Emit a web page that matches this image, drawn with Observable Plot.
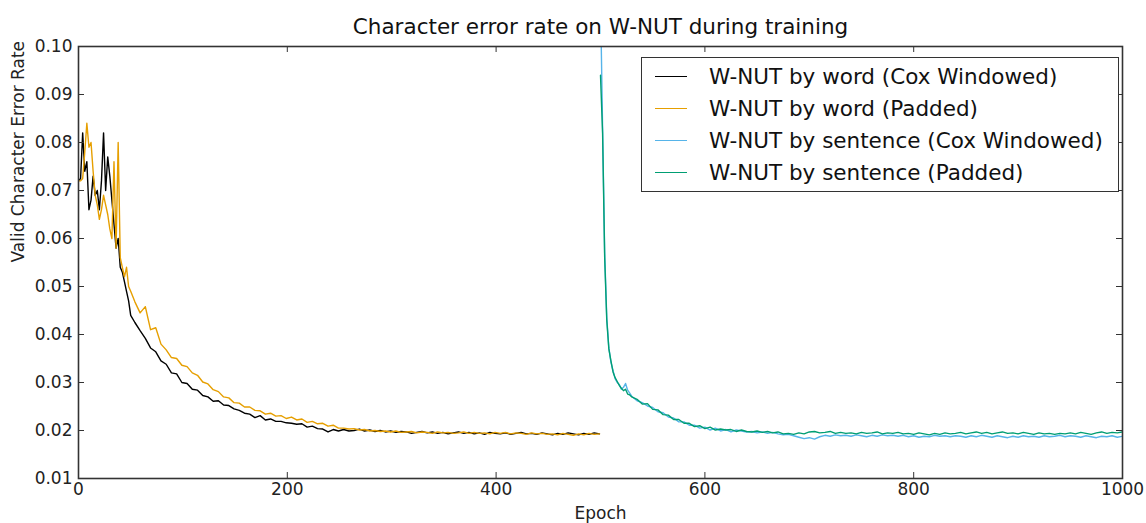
<!DOCTYPE html>
<html>
<head>
<meta charset="utf-8">
<script src="https://cdn.jsdelivr.net/npm/d3@7"></script>
<script src="https://cdn.jsdelivr.net/npm/@observablehq/plot@0.6"></script>
<style>
  html, body { margin: 0; padding: 0; background: #fff; }
  #wrap { position: relative; width: 1146px; height: 523px; font-family: "DejaVu Sans", sans-serif; }
  #legend { position: absolute; left: 641px; top: 57px; width: 476px; height: 133px; border: 1.5px solid #333; background: #fff; }
  .row { position: absolute; left: 0; height: 30px; display: flex; align-items: center; font-size: 21.5px; color: #111; white-space: nowrap; }
  .sw { width: 32px; height: 0; border-top: 1.6px solid; margin-left: 13px; margin-right: 22px; }
</style>
</head>
<body>
<div id="wrap"></div>
<script>
// ---- data ----
const titleText = "Character error rate on W-NUT during training";
const xLabel = "Epoch";
const yLabel = "Valid Character Error Rate";
const xTicks = [0, 200, 400, 600, 800, 1000];
const yTicks = [0.01, 0.02, 0.03, 0.04, 0.05, 0.06, 0.07, 0.08, 0.09, 0.10];
const seriesNames = [
  "W-NUT by word (Cox Windowed)",
  "W-NUT by word (Padded)",
  "W-NUT by sentence (Cox Windowed)",
  "W-NUT by sentence (Padded)"
];
const seriesColors = ["#000000", "#E69F00", "#56B4E9", "#009E73"];

// epoch grids
const wordEarlyEpochs = d3.range(0, 51, 2);     // 0..50
const wordLateEpochs = d3.range(54, 500, 5);    // 54..499
const sentEarlyEpochs = d3.range(500, 531, 2);  // 500..530
const sentLateEpochs = d3.range(535, 1001, 5);  // 535..1000

// word, Cox windowed (black)
const wordCoxEarly = [0.0720,0.0725,0.0820,0.0740,0.0760,0.0660,0.0680,0.0730,0.0690,0.0700,
  0.0660,0.0720,0.0820,0.0700,0.0770,0.0730,0.0680,0.0630,0.0580,0.0600,
  0.0540,0.0530,0.0510,0.0490,0.0470,0.0440];
const wordCoxLate = [
  0.0425,0.0408,0.0392,0.0372,0.0364,0.0345,0.0338,0.0320,0.0318,0.0300,
  0.0298,0.0286,0.0284,0.0273,0.0270,0.0261,0.0262,0.0253,0.0252,0.0245,
  0.0242,0.0236,0.0234,0.0227,0.0231,0.0222,0.0224,0.0219,0.0219,0.0216,
  0.0215,0.0213,0.0214,0.0207,0.0209,0.0204,0.0203,0.0197,0.0202,0.0199,
  0.0202,0.0199,0.0200,0.0203,0.0199,0.0201,0.0198,0.0200,0.0197,0.0199,
  0.0196,0.0198,0.0197,0.0194,0.0196,0.0198,0.0195,0.0197,0.0194,0.0196,
  0.0193,0.0195,0.0197,0.0194,0.0196,0.0193,0.0195,0.0192,0.0196,0.0194,
  0.0193,0.0195,0.0192,0.0194,0.0196,0.0193,0.0194,0.0192,0.0195,0.0193,
  0.0191,0.0194,0.0192,0.0195,0.0193,0.0191,0.0194,0.0192,0.0195,0.0193];

// word, padded (orange)
const wordPadEarly = [0.0720,0.0720,0.0725,0.0780,0.0840,0.0790,0.0800,0.0740,0.0690,0.0670,
  0.0640,0.0660,0.0690,0.0670,0.0650,0.0620,0.0600,0.0760,0.0580,0.0800,
  0.0560,0.0540,0.0520,0.0540,0.0500,0.0490];
const wordPadLate = [
  0.0468,0.0445,0.0458,0.0410,0.0414,0.0380,0.0368,0.0352,0.0350,0.0336,
  0.0333,0.0320,0.0315,0.0301,0.0297,0.0285,0.0281,0.0270,0.0268,0.0258,
  0.0257,0.0249,0.0249,0.0242,0.0241,0.0234,0.0236,0.0230,0.0231,0.0225,
  0.0228,0.0222,0.0224,0.0217,0.0219,0.0214,0.0215,0.0209,0.0211,0.0205,
  0.0205,0.0203,0.0204,0.0201,0.0202,0.0199,0.0200,0.0198,0.0199,0.0197,
  0.0199,0.0196,0.0197,0.0198,0.0195,0.0197,0.0196,0.0194,0.0197,0.0195,
  0.0196,0.0194,0.0195,0.0197,0.0194,0.0196,0.0194,0.0195,0.0193,0.0196,
  0.0194,0.0196,0.0193,0.0195,0.0194,0.0192,0.0195,0.0193,0.0194,0.0192,
  0.0193,0.0191,0.0194,0.0192,0.0190,0.0193,0.0191,0.0194,0.0192,0.0193];

// sentence, Cox windowed (sky blue)
const sentCoxEarly = [0.1100,0.0830,0.0570,0.0435,0.0372,0.0342,0.0325,0.0308,0.0300,0.0296,
  0.0286,0.0290,0.0298,0.0284,0.0278,0.0271];
const sentCoxLate = [
  0.0262,0.0258,0.0251,0.0248,0.0239,0.0237,0.0228,0.0226,0.0218,0.0218,
  0.0211,0.0211,0.0205,0.0207,0.0201,0.0205,0.0199,0.0202,0.0197,0.0201,
  0.0199,0.0197,0.0198,0.0195,0.0197,0.0194,0.0196,0.0193,0.0191,0.0192,
  0.0189,0.0186,0.0183,0.0185,0.0182,0.0187,0.0190,0.0188,0.0191,0.0189,
  0.0190,0.0188,0.0191,0.0189,0.0187,0.0190,0.0188,0.0191,0.0189,0.0190,
  0.0188,0.0190,0.0187,0.0189,0.0186,0.0188,0.0187,0.0190,0.0188,0.0189,
  0.0187,0.0189,0.0188,0.0186,0.0189,0.0187,0.0190,0.0188,0.0186,0.0189,
  0.0187,0.0185,0.0188,0.0186,0.0189,0.0187,0.0188,0.0186,0.0189,0.0187,
  0.0188,0.0190,0.0187,0.0189,0.0188,0.0186,0.0189,0.0187,0.0185,0.0188,
  0.0187,0.0189,0.0186,0.0188];

// sentence, padded (green)
const sentPadEarly = [0.0940,0.0820,0.0560,0.0430,0.0370,0.0345,0.0322,0.0310,0.0302,0.0294,
  0.0288,0.0283,0.0286,0.0276,0.0274,0.0270];
const sentPadLate = [
  0.0265,0.0255,0.0256,0.0244,0.0243,0.0233,0.0232,0.0223,0.0223,0.0215,
  0.0215,0.0208,0.0210,0.0204,0.0207,0.0201,0.0203,0.0201,0.0202,0.0198,
  0.0201,0.0198,0.0197,0.0199,0.0196,0.0198,0.0195,0.0197,0.0193,0.0194,
  0.0192,0.0195,0.0193,0.0197,0.0198,0.0195,0.0196,0.0198,0.0194,0.0196,
  0.0194,0.0195,0.0193,0.0196,0.0194,0.0195,0.0197,0.0193,0.0195,0.0194,
  0.0196,0.0193,0.0194,0.0192,0.0195,0.0193,0.0191,0.0194,0.0192,0.0195,
  0.0193,0.0194,0.0196,0.0193,0.0195,0.0197,0.0194,0.0196,0.0193,0.0195,
  0.0197,0.0194,0.0195,0.0193,0.0196,0.0194,0.0192,0.0195,0.0193,0.0194,
  0.0192,0.0194,0.0193,0.0195,0.0193,0.0196,0.0194,0.0192,0.0195,0.0197,
  0.0194,0.0196,0.0195,0.0197];

// ---- build tables ----
function toRows(epochs, values) { return epochs.map((e, i) => ({epoch: e, value: values[i]})); }
const wordEpochs = wordEarlyEpochs.concat(wordLateEpochs);
const sentEpochs = sentEarlyEpochs.concat(sentLateEpochs);
const seriesData = [
  toRows(wordEpochs, wordCoxEarly.concat(wordCoxLate)),
  toRows(wordEpochs, wordPadEarly.concat(wordPadLate)),
  toRows(sentEpochs, sentCoxEarly.concat(sentCoxLate)),
  toRows(sentEpochs, sentPadEarly.concat(sentPadLate))
];

const W = 1146, H = 523;
const mL = 78, mR = 24, mT = 46, mB = 45;
const pw = W - mL - mR, ph = H - mT - mB;
const tick = 6;
const axisColor = "#333";
const font = "DejaVu Sans, sans-serif";

const plot = Plot.plot({
  width: W, height: H,
  marginLeft: mL, marginRight: mR, marginTop: mT, marginBottom: mB,
  style: {fontFamily: font, background: "#fff", color: "#222"},
  x: {domain: [0, 1000], axis: null},
  y: {domain: [0.01, 0.10], axis: null},
  marks: [
    ...seriesData.map((d, i) => Plot.line(d, {x: "epoch", y: "value", stroke: seriesColors[i], strokeWidth: 1.4, clip: true})),
    // inward ticks on all four sides
    Plot.tickY(yTicks, {y: d => d, insetRight: pw - tick, stroke: axisColor, strokeWidth: 1}),
    Plot.tickY(yTicks, {y: d => d, insetLeft: pw - tick, stroke: axisColor, strokeWidth: 1}),
    Plot.tickX(xTicks, {x: d => d, insetTop: ph - tick, stroke: axisColor, strokeWidth: 1}),
    Plot.tickX(xTicks, {x: d => d, insetBottom: ph - tick, stroke: axisColor, strokeWidth: 1}),
    Plot.frame({stroke: axisColor, strokeWidth: 1.6}),
    Plot.axisY(yTicks, {anchor: "left", tickSize: 0, tickPadding: 6, tickFormat: d3.format(".2f"), fontSize: 17, label: null, fill: "#222"}),
    Plot.axisX(xTicks, {anchor: "bottom", tickSize: 0, tickPadding: 4, tickFormat: d => String(d), fontSize: 17, label: null, fill: "#222"}),
    Plot.text([titleText], {frameAnchor: "top", lineAnchor: "middle", dy: -19, fontSize: 21.5, fill: "#111"}),
    Plot.text([xLabel], {frameAnchor: "bottom", lineAnchor: "middle", dy: 35, fontSize: 17, fill: "#222"}),
    Plot.text([yLabel], {frameAnchor: "left", dx: -60, rotate: -90, fontSize: 17, fill: "#222"})
  ]
});

const wrap = document.getElementById("wrap");
wrap.appendChild(plot);

// legend
const legend = document.createElement("div");
legend.id = "legend";
seriesNames.forEach((name, i) => {
  const row = document.createElement("div");
  row.className = "row";
  row.style.top = (3 + i * 32) + "px";
  const sw = document.createElement("span");
  sw.className = "sw";
  sw.style.borderTopColor = seriesColors[i];
  const tx = document.createElement("span");
  tx.textContent = name;
  row.appendChild(sw);
  row.appendChild(tx);
  legend.appendChild(row);
});
wrap.appendChild(legend);
</script>
</body>
</html>
